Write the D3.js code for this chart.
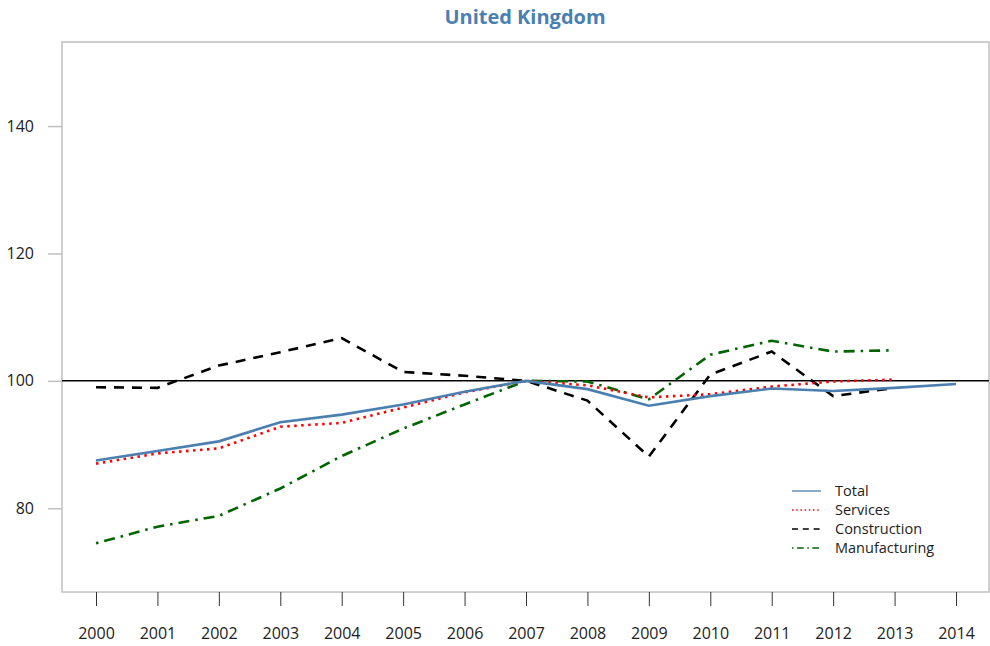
<!DOCTYPE html>
<html>
<head>
<meta charset="utf-8">
<script src="https://cdn.jsdelivr.net/npm/d3@7"></script>
<style>
  body { margin: 0; background: #fff; }
  text { font-family: "Open Sans", "Noto Sans", sans-serif; }
</style>
</head>
<body>
<script>
// index values, 2007 = 100
var years = [2000, 2001, 2002, 2003, 2004, 2005, 2006, 2007, 2008, 2009, 2010, 2011, 2012, 2013, 2014];
var total = [87.5, 89.0, 90.5, 93.5, 94.7, 96.3, 98.3, 100, 98.7, 96.1, 97.6, 98.8, 98.4, 98.9, 99.5];
var services = [87.0, 88.6, 89.4, 92.8, 93.4, 95.8, 98.2, 100, 99.3, 97.4, 97.9, 99.1, 99.9, 100.2];
var construction = [99.0, 98.9, 102.4, 104.5, 106.7, 101.4, 100.8, 100, 96.9, 88.1, 101.0, 104.6, 97.6, 98.9];
var manufacturing = [74.5, 77.1, 78.8, 83.1, 88.2, 92.5, 96.3, 100, 99.9, 97.1, 104.1, 106.3, 104.6, 104.8];
var yTicks = [80, 100, 120, 140];

var width = 990;
var height = 646;
var plotL = 62, plotR = 989, plotT = 42, plotB = 592;

var svg = d3.select("body").append("svg")
    .attr("width", width)
    .attr("height", height);

var x = d3.scaleLinear().domain([2000, 2014]).range([96, 956]);
var y = d3.scaleLinear().domain([66.85, 153.2]).range([plotB, plotT]);

// title
svg.append("text")
    .attr("x", 525)
    .attr("y", 24)
    .attr("text-anchor", "middle")
    .attr("font-size", 20)
    .attr("font-weight", "bold")
    .attr("fill", "#4a7fb0")
    .text("United Kingdom");

// frame
svg.append("rect")
    .attr("x", plotL)
    .attr("y", plotT)
    .attr("width", plotR - plotL)
    .attr("height", plotB - plotT)
    .attr("fill", "none")
    .attr("stroke", "#c0c0c0")
    .attr("stroke-width", 1.5);

// y axis
var yAxis = svg.append("g")
    .attr("transform", "translate(" + plotL + ",0)")
    .call(d3.axisLeft(y).tickValues(yTicks).tickSize(14).tickPadding(14));
yAxis.select(".domain").remove();
yAxis.selectAll("line").attr("stroke", "#c0c0c0").attr("stroke-width", 1.5);
yAxis.selectAll("text").attr("font-size", 16).attr("fill", "#222")
    .attr("font-family", "'Open Sans', 'Noto Sans', sans-serif");

// x axis
var xAxis = svg.append("g")
    .attr("transform", "translate(0," + plotB + ")")
    .call(d3.axisBottom(x).tickValues(years).tickFormat(d3.format("d")).tickSize(14).tickPadding(22));
xAxis.select(".domain").remove();
xAxis.selectAll("line").attr("stroke", "#333");
xAxis.selectAll("text").attr("font-size", 16).attr("fill", "#222")
    .attr("font-family", "'Open Sans', 'Noto Sans', sans-serif");

// reference line at 100
svg.append("line")
    .attr("x1", plotL)
    .attr("x2", plotR)
    .attr("y1", y(100))
    .attr("y2", y(100))
    .attr("stroke", "#000")
    .attr("stroke-width", 1.5);

var series = [
  {name: "Total", values: total, color: "#4a7fb0", dash: null},
  {name: "Services", values: services, color: "#ff0000", dash: "2.5,4.5"},
  {name: "Construction", values: construction, color: "#000", dash: "10,8"},
  {name: "Manufacturing", values: manufacturing, color: "#006400", dash: "2.5,6,11,6"}
];

var line = d3.line()
    .x(function(d, i){ return x(years[i]); })
    .y(function(d){ return y(d); });

// draw back to front so total sits on top
series.slice().reverse().forEach(function(s){
  svg.append("path")
      .datum(s.values)
      .attr("d", line)
      .attr("fill", "none")
      .attr("stroke", s.color)
      .attr("stroke-width", 2.6)
      .attr("stroke-dasharray", s.dash);
});

// legend
var legend = svg.append("g");
series.forEach(function(s, i){
  var ly = 491 + i * 19;
  legend.append("line")
      .attr("x1", 792)
      .attr("x2", 821)
      .attr("y1", ly)
      .attr("y2", ly)
      .attr("stroke", s.color)
      .attr("stroke-width", 1.3)
      .attr("stroke-dasharray", s.dash ? s.dash.split(",").map(function(v){ return v * 0.6; }).join(",") : null);
  legend.append("text")
      .attr("x", 835)
      .attr("y", ly + 5)
      .attr("font-size", 14.5)
      .attr("fill", "#222")
      .text(s.name);
});
</script>
</body>
</html>
